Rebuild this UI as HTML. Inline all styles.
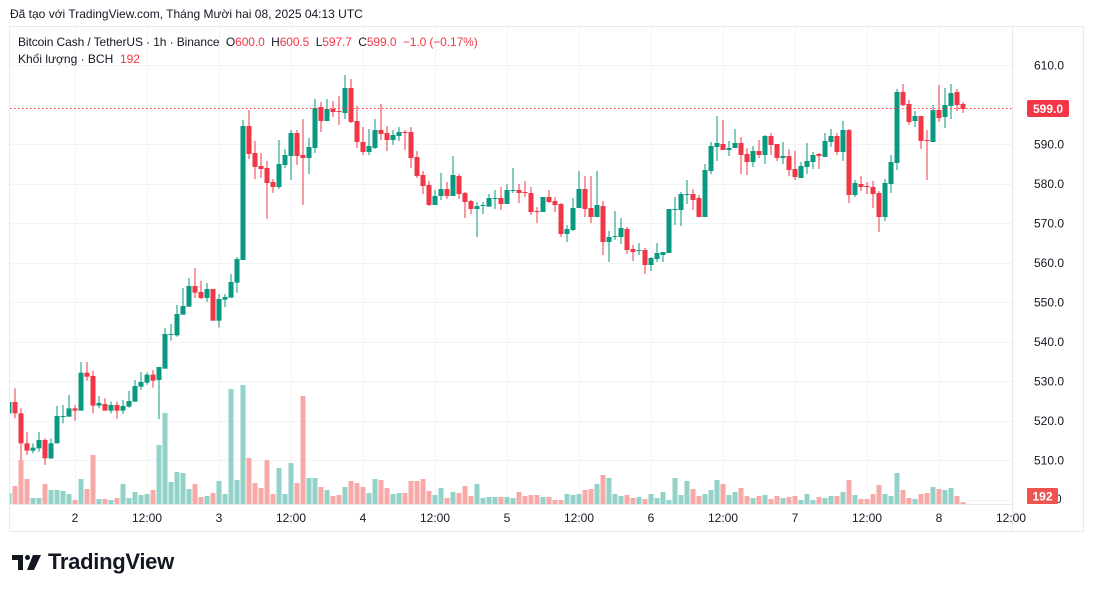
<!DOCTYPE html>
<html><head><meta charset="utf-8">
<style>
body{margin:0;background:#fff;width:1094px;height:592px;overflow:hidden;font-family:"Liberation Sans","DejaVu Sans",sans-serif;}
#root{position:relative;width:1094px;height:592px;}
.t{position:absolute;white-space:nowrap;}
</style></head><body><div id="root">
<div class="t" style="left:10px;top:7px;font-size:12px;color:#131722;">Đã tạo với TradingView.com, Tháng Mười hai 08, 2025 04:13 UTC</div>
<svg id="s" width="1094" height="592" style="position:absolute;left:0;top:0"></svg>
<div class="t" style="left:18px;top:35px;font-size:12px;color:#131722;letter-spacing:-0.1px;">Bitcoin Cash / TetherUS · 1h · Binance&nbsp; O<span style="color:#f23645">600.0</span>&nbsp; H<span style="color:#f23645">600.5</span>&nbsp; L<span style="color:#f23645">597.7</span>&nbsp; C<span style="color:#f23645">599.0</span>&nbsp; <span style="color:#f23645">−1.0 (−0.17%)</span></div>
<div class="t" style="left:18px;top:52px;font-size:12px;color:#131722;">Khối lượng · BCH&nbsp; <span style="color:#f23645">192</span></div>
<div class="t" style="left:48px;top:549px;font-size:22px;font-weight:bold;color:#131722;letter-spacing:-0.3px;">TradingView</div>
</div>
<script>
var C=[
"g,1026,1060,1026,1060","r,1026,1060,985,1075","r,1060,1150,1045,1200","r,1150,1172,1116,1185","g,1163,1172,1150,1180","g,1140,1165,1116,1175","r,1140,1195,1135,1215","g,1150,1195,1135,1197","g,1068,1150,1038,1150","g,1068,1071,1035,1090",
"g,1045,1070,1005,1070","r,1045,1052,1035,1082","g,938,1052,906,1052","r,938,950,906,962","r,948,1037,932,1060","g,1029,1037,1008,1045","r,1032,1052,1015,1052","g,1035,1052,1025,1060","r,1035,1052,1025,1076","g,1038,1052,1020,1062",
"g,1023,1040,993,1043","g,978,1025,960,1025","g,966,980,936,990","g,944,968,938,974","r,944,962,930,983","g,921,960,921,1077","g,822,926,804,926","g,822,825,792,842","g,762,826,735,830","g,738,764,684,764",
"g,678,740,654,740","r,678,698,624,714","r,696,714,662,717","g,687,714,669,726","r,687,782,687,782","g,717,782,702,803","g,711,719,702,741","g,666,713,642,713","g,597,668,591,698","g,198,600,180,600",
"r,198,282,150,297","r,279,321,243,357","r,318,327,279,354","r,324,369,303,477","r,366,381,357,399","g,312,381,240,387","g,285,315,267,324","g,219,288,210,360","r,219,288,210,315","r,285,294,177,435",
"g,261,294,234,342","g,144,264,117,279","r,141,183,126,216","g,147,183,117,183","r,147,156,123,171","r,153,155,108,195","g,84,159,45,177","r,84,186,57,189","r,183,246,138,264","r,246,276,201,285",
"g,258,276,207,285","g,210,264,177,267","r,210,222,132,240","r,219,240,198,273","g,225,240,210,255","g,216,228,201,243","r,216,218,210,270","r,216,294,201,324","r,291,348,273,354","r,345,378,333,402",
"r,375,435,363,438","g,408,435,390,435","g,387,408,339,420","r,387,408,366,417","g,345,408,288,408","r,348,402,342,417","r,399,426,396,474","r,423,447,420,462","g,438,447,426,531","g,435,438,426,462",
"g,414,440,402,440","g,414,416,390,447","r,414,432,381,450","g,390,432,372,432","g,390,393,324,399","r,390,399,372,429","r,396,398,363,411","r,399,456,381,465","r,453,456,441,489","g,411,456,411,456",
"r,411,426,390,429","r,423,435,411,456","r,432,522,429,531","g,507,522,495,546","g,444,510,414,513","g,387,444,333,444","r,387,447,348,471","r,444,471,348,489","g,435,471,333,471","r,438,546,423,585",
"g,531,546,513,606","g,528,531,453,540","g,504,531,474,552","r,507,570,501,582","r,567,576,555,603","g,570,573,549,585","r,570,615,564,642","g,594,615,591,633","g,579,597,549,606","g,576,585,576,606",
"g,447,579,447,579","g,447,450,411,495","g,402,450,396,498","g,402,405,360,432","r,402,420,387,450","r,414,471,405,471","g,330,471,312,471","g,258,333,246,342","g,249,261,168,303","r,252,270,180,270",
"g,264,270,243,288","g,249,264,207,264","r,249,285,231,342","r,282,306,264,345","g,273,306,258,321","r,273,285,240,294","g,228,285,225,312","r,228,255,219,285","r,252,294,252,303","g,288,294,246,312",
"r,288,330,267,348","r,327,351,273,360","g,318,354,306,354","g,303,321,249,342","g,285,306,276,327","r,282,288,279,327","g,243,291,219,291","g,228,246,207,261","r,228,276,219,285","g,210,276,183,303",
"r,210,405,207,429","g,369,405,360,411","r,372,381,348,393","r,378,381,366,402","r,381,402,363,444","r,399,471,393,516","g,369,471,357,483","g,306,372,285,399","g,96,309,87,330","r,96,135,72,138",
"r,132,186,120,195","g,168,183,153,201","r,168,243,168,267","r,240,243,210,360","g,150,246,135,246","r,150,174,75,186","g,135,171,84,204","g,99,138,72,177","r,96,135,87,153","r,132,147,126,159"];
var V=[1299,1278,1200,1257,1314,1314,1272,1290,1290,1293,1302,1320,1257,1287,1185,1317,1317,1320,1314,1272,1314,1296,1305,1302,1290,1155,1059,1266,1236,1239,1287,1272,1311,1308,1299,1263,1302,987,1260,975,
1194,1269,1284,1200,1302,1224,1302,1209,1269,1008,1254,1254,1281,1290,1308,1305,1281,1263,1269,1281,1299,1257,1260,1284,1302,1299,1299,1263,1263,1257,1293,1305,1284,1314,1296,1299,1278,1308,1272,1314,
1311,1311,1311,1311,1314,1296,1308,1305,1305,1311,1311,1320,1320,1302,1305,1302,1290,1287,1272,1245,1254,1302,1308,1305,1314,1311,1317,1302,1314,1296,1320,1254,1305,1263,1287,1308,1302,1290,1260,1272,
1305,1296,1284,1308,1314,1308,1305,1317,1308,1314,1311,1308,1320,1302,1320,1311,1314,1308,1308,1296,1260,1305,1317,1317,1302,1275,1302,1308,1239,1290,1314,1317,1302,1299,1281,1287,1290,1284,1308,1326];
var h='';
h+='<rect x="9.5" y="26.5" width="1074" height="505" fill="none" stroke="#e8eaef"/>';
h+='<line x1="1012.5" y1="27" x2="1012.5" y2="531" stroke="#e8eaef"/>';
h+='<line x1="10" y1="504.5" x2="1012" y2="504.5" stroke="#e8eaef"/>';
var prices=[610,600,590,580,570,560,550,540,530,520,510,500];
prices.forEach(function(p){var y=65+(610-p)*3.95;h+='<line x1="10" y1="'+(Math.round(y)+.5)+'" x2="1012" y2="'+(Math.round(y)+.5)+'" stroke="#f2f3f5"/>';
if(p!==600&&p!==500)h+='<text x="1034" y="'+(y+4.5)+'" font-size="12" fill="#131722">'+p.toFixed(1)+'</text>';});
h+='<text x="1055" y="503" font-size="12" fill="#131722">0</text>';
var tl=[[75,'2'],[147,'12:00'],[219,'3'],[291,'12:00'],[363,'4'],[435,'12:00'],[507,'5'],[579,'12:00'],[651,'6'],[723,'12:00'],[795,'7'],[867,'12:00'],[939,'8'],[1011,'12:00']];
tl.forEach(function(t){if(t[0]<1010)h+='<line x1="'+(t[0]+.5)+'" y1="27" x2="'+(t[0]+.5)+'" y2="504" stroke="#f2f3f5"/>';
h+='<text x="'+t[0]+'" y="522" font-size="12" fill="#131722" text-anchor="middle">'+t[1]+'</text>';});
function Y(z){return 60+z/3;}
V.forEach(function(v,i){var c=C[i][0]=='g'?'#92d2c8':'#f7a9a7';var x=9+6*i-2.5;var y=Y(v);var x0=Math.max(x,10);h+='<rect x="'+x0+'" y="'+y+'" width="'+(x+5-x0)+'" height="'+(504-y)+'" fill="'+c+'"/>';});
C.forEach(function(s,i){var a=s.split(',');var c=a[0]=='g'?'#089981':'#f23645';var cx=9+6*i;var bt=Y(+a[1]),bb=Y(+a[2]),wt=Y(+a[3]),wb=Y(+a[4]);
var x=cx-2.5,x0=Math.max(x,10);
if(cx>10)h+='<rect x="'+(cx-0.5)+'" y="'+wt+'" width="1" height="'+(wb-wt)+'" fill="'+c+'"/>';
h+='<rect x="'+x0+'" y="'+bt+'" width="'+(x+5-x0)+'" height="'+Math.max(1,bb-bt)+'" fill="'+c+'"/>';});
h+='<line x1="10" y1="108.5" x2="1012" y2="108.5" stroke="#f23645" stroke-dasharray="1.5,2.5"/>';
h+='<rect x="1027" y="100" width="42" height="17" rx="2" fill="#f23645"/><text x="1048" y="113" font-size="12" font-weight="bold" fill="#fff" text-anchor="middle">599.0</text>';
h+='<rect x="1027" y="488" width="31" height="16" rx="1" fill="#ef5350"/><text x="1042.5" y="500.5" font-size="12" font-weight="bold" fill="#fff" text-anchor="middle">192</text>';
// logo
h+='<path d="M12 555h11v15h-5v-10h-6z" fill="#131722"/><circle cx="27.5" cy="557.5" r="2.5" fill="#131722"/><path d="M33 555h8l-7 15h-7z" fill="#131722"/>';
document.getElementById('s').innerHTML=h;
</script>
</body></html>
